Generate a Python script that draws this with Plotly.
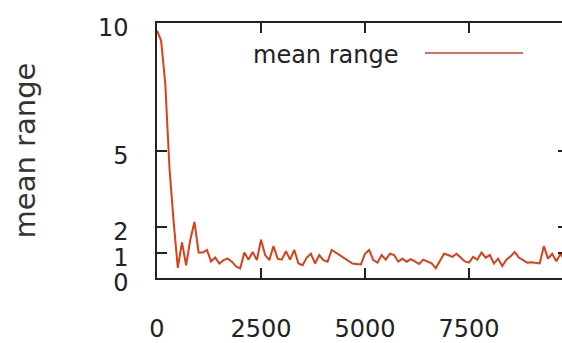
import plotly.graph_objects as go

# iterations (step 100) and mean range values
iterations = list(range(0, 10100, 100))
mean_range = [
    9.7, 9.3, 7.6, 4.3, 2.2, 0.4, 1.4, 0.5, 1.5, 2.2,
    1.0, 1.0, 1.1, 0.65, 0.8, 0.57, 0.7, 0.76, 0.64, 0.45,
    0.38, 1.0, 0.72, 1.02, 0.7, 1.5, 0.9, 0.7, 1.25, 0.76,
    0.72, 1.05, 0.72, 1.1, 0.57, 0.5, 0.8, 0.95, 0.57, 0.9,
    0.7, 0.64, 1.1, 1.0, 0.9, 0.8, 0.7, 0.57, 0.55, 0.53,
    0.95, 1.1, 0.7, 0.6, 0.9, 0.72, 0.95, 0.9, 0.64, 0.76,
    0.64, 0.74, 0.65, 0.55, 0.72, 0.65, 0.58, 0.38, 0.64, 0.95,
    0.9, 0.83, 0.95, 0.8, 0.65, 0.6, 0.83, 0.72, 1.0, 0.8,
    0.9, 0.57, 0.76, 0.47, 0.72, 0.85, 1.02, 0.8, 0.7, 0.6,
    0.62, 0.6, 0.57, 1.25, 0.76, 0.95, 0.66, 0.95, 0.7, 0.8,
    0.75,
]
x_ticks = [0, 2500, 5000, 7500]
y_ticks = [0, 1, 2, 5, 10]
series_name = "mean range"

LINE_COLOR = "#dc3f18"
FRAME = "#222222"
FONT = dict(family="DejaVu Sans", size=24, color="#222222")

fig = go.Figure()
fig.add_trace(go.Scatter(
    x=iterations, y=mean_range, mode="lines", name=series_name,
    line=dict(color=LINE_COLOR, width=2), showlegend=False,
))
# invisible trace to carry the right-hand mirrored y ticks
fig.add_trace(go.Scatter(x=[], y=[], yaxis="y2", showlegend=False))

fig.update_layout(
    width=562, height=343,
    margin=dict(l=157, r=0, t=23, b=56),
    paper_bgcolor="white", plot_bgcolor="white",
    font=FONT,
    xaxis=dict(
        range=[0, 9736], tickvals=x_ticks, ticktext=[str(v) for v in x_ticks],
        ticks="inside", ticklen=10, tickcolor=FRAME, tickwidth=1.5,
        showline=True, linecolor=FRAME, linewidth=1.5, mirror="ticks",
        showgrid=False, zeroline=False, ticklabelstandoff=28,
    ),
    yaxis=dict(
        range=[0, 10], tickvals=y_ticks, ticktext=[str(v) for v in y_ticks],
        ticks="inside", ticklen=10, tickcolor=FRAME, tickwidth=1.5,
        showline=True, linecolor=FRAME, linewidth=1.5, mirror=False,
        showgrid=False, zeroline=False, ticklabelstandoff=22,
        ticklabelshift=5,
        title=dict(text=series_name, standoff=54, font=dict(color="#333333")),
    ),
    yaxis2=dict(
        range=[0, 10], tickvals=y_ticks, overlaying="y", side="right",
        anchor="x", ticks="inside", ticklen=4, tickcolor=FRAME, tickwidth=1.5,
        showticklabels=False, showline=False, showgrid=False, zeroline=False,
    ),
)

# gnuplot-style key: text followed by a line sample
fig.add_annotation(
    text=series_name, xref="paper", yref="paper", x=0.6, y=0.875,
    xanchor="right", yanchor="middle", showarrow=False, font=FONT,
)
fig.add_shape(
    type="line", xref="paper", yref="paper", x0=0.6617, x1=0.9037,
    y0=0.8826, y1=0.8826, line=dict(color="#c8402a", width=1.5),
)

fig.write_html("out.html")
